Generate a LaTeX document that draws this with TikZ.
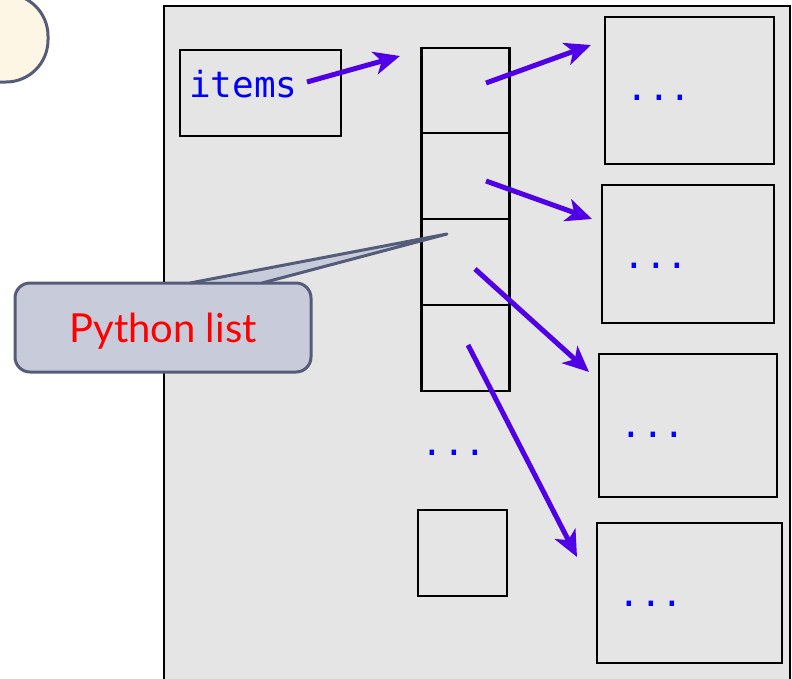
\documentclass[tikz,border=0pt]{standalone}
\usepackage{fontspec}
\usetikzlibrary{arrows.meta}
\newfontfamily\monofont{DejaVu Sans Mono}
\newfontfamily\labelfont{Lato}
\definecolor{panelgray}{HTML}{E5E5E5}
\definecolor{slateedge}{HTML}{545C7A}
\definecolor{calloutfill}{HTML}{C8CCDA}
\definecolor{creamfill}{HTML}{FDF6E4}
\definecolor{refarrow}{HTML}{5000E6}
\tikzset{
  box/.style={draw=black, line width=2.6pt, inner sep=0pt},
  dots/.style={text=blue, font=\monofont\fontsize{36}{36}\selectfont, inner sep=0pt, anchor=base},
  ref/.style={draw=refarrow, line width=5pt,
    -{Stealth[length=26pt, width=23pt, inset=7pt]}},
}
\begin{document}
\begin{tikzpicture}[x=1pt, y=-1pt]
\useasboundingbox (0,0) rectangle (792,678);
\clip (0,0) rectangle (792,678);

% corner badge
\draw[fill=creamfill, draw=slateedge, line width=3pt, rounded corners=42]
  (-60,-6) rectangle (48,82);

% frame
\draw[fill=panelgray, draw=black, line width=2.6pt] (164,6) rectangle (790,700);

% variable
\node[box, minimum width=161pt, minimum height=86pt] (itemsbox) at (260.5,93) {};
\node[anchor=base west, inner sep=0pt, text=blue,
      font=\monofont\fontsize{36}{36}\selectfont] (itemstext) at (189,97) {items};

% list cells
\node[box, minimum width=88pt, minimum height=85pt] (c1) at (465.5,90.5) {};
\node[box, minimum width=88pt, minimum height=86pt] (c2) at (465.5,176) {};
\node[box, minimum width=88pt, minimum height=86pt] (c3) at (465.5,262) {};
\node[box, minimum width=88pt, minimum height=86pt] (c4) at (465.5,348) {};
\node[dots] (cdots) at (454,455.5) {...};
\node[box, minimum width=89pt, minimum height=86pt] (clast) at (462.5,553) {};

% element objects
\node[box, minimum width=169pt, minimum height=147pt] (o1) at (689.5,90.5) {};
\node[box, minimum width=172pt, minimum height=138pt] (o2) at (688,254) {};
\node[box, minimum width=178pt, minimum height=143pt] (o3) at (688,425.5) {};
\node[box, minimum width=185pt, minimum height=140pt] (o4) at (689.5,593) {};
\node[dots] (o1dots) at (659,100.5) {...};
\node[dots] (o2dots) at (656,268.5) {...};
\node[dots] (o3dots) at (653,437.5) {...};
\node[dots] (o4dots) at (651,606.5) {...};

% references
\coordinate (r0s) at (307,82);  \coordinate (r0e) at (400,56);
\coordinate (r1s) at (486,83);  \coordinate (r1e) at (591,45);
\coordinate (r2s) at (486,181); \coordinate (r2e) at (592,219);
\coordinate (r3s) at (475,269); \coordinate (r3e) at (589,372);
\coordinate (r4s) at (468,345); \coordinate (r4e) at (577,557);
\draw[ref] (r0s) -- (r0e);
\draw[ref] (r1s) -- (r1e);
\draw[ref] (r2s) -- (r2e);
\draw[ref] (r3s) -- (r3e);
\draw[ref] (r4s) -- (r4e);

% callout: rounded box, then a pointer whose base hides the box edge
\node[draw=slateedge, fill=calloutfill, line width=3pt, rounded corners=15pt,
      minimum width=296pt, minimum height=89pt, inner sep=0pt, text=red,
      text depth=0pt, font=\labelfont\fontsize{40}{40}\selectfont]
  (callout) at (163,327.5) {Python list};
\coordinate (tip) at (447,234);
\coordinate (pl) at (190,283);
\coordinate (pr) at (262,283);
\fill[calloutfill] (pl) -- (tip) -- (pr) -- ([yshift=2pt]pr) -- ([yshift=2pt]pl) -- cycle;
\draw[slateedge, line width=3pt, line join=round, line cap=round]
  (pl) -- (tip) -- (pr);
\end{tikzpicture}
\end{document}
